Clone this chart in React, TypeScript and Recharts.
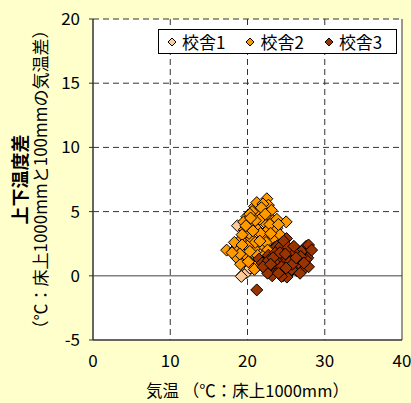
import React from 'react';
import { ScatterChart, Scatter, XAxis, YAxis, CartesianGrid, ReferenceLine, Legend, Label } from 'recharts';

const FONT = '"Noto Sans CJK JP", "Noto Sans", sans-serif';
const NAMES = ['校舎1', '校舎2', '校舎3'];
const COLORS = ['#FFCC99', '#FF9900', '#993300'];
const X_TICKS = [0, 10, 20, 30, 40];
const Y_TICKS = [-5, 0, 5, 10, 15, 20];

// [気温, 上下温度差]
const school1: [number, number][] = [
  [18.7, 3.9], [19.4, 0.1], [19.9, 0.25], [19.2, -0.05], [20.0, 3.7], [20.3, 0.6], [19.0, 2.5],
  [20.6, 1.8], [21.0, 3.0], [19.6, 1.2], [21.8, 2.2], [20.2, 4.3], [22.4, 3.4], [21.4, 0.8],
];

const school2: [number, number][] = [
  [22.5, 6.0], [22.7, 5.5], [20.9, 5.4], [21.2, 5.7], [21.9, 5.0], [19.9, 4.6], [21.3, 4.9], [22.7, 4.7],
  [23.1, 5.1], [19.5, 4.2], [20.5, 4.1], [22.1, 4.2], [23.3, 4.3], [23.8, 4.4], [25.0, 4.2], [19.6, 3.6],
  [21.3, 3.6], [22.7, 3.6], [23.8, 3.7], [19.1, 2.8], [20.5, 2.9], [22.1, 3.0], [23.3, 2.9], [17.3, 2.0],
  [18.4, 2.1], [19.5, 2.0], [20.9, 2.1], [22.1, 2.3], [18.6, 1.4], [19.9, 1.5], [21.3, 1.6], [19.1, 0.9],
  [20.5, 0.9], [21.5, 1.0], [20.9, 0.5], [20.2, 3.3], [21.6, 4.4], [22.4, 2.6], [24.2, 3.2], [23.0, 1.8],
  [21.0, 2.6], [20.0, 2.3], [19.3, 3.2], [20.6, 5.0], [22.0, 5.6], [24.5, 2.6], [23.5, 2.2],
  [21.8, 5.3], [20.3, 4.8], [22.9, 4.0], [21.0, 4.3], [19.8, 3.9], [21.7, 3.3], [23.0, 3.3], [20.7, 3.5],
  [18.3, 2.6], [19.3, 2.4], [21.6, 2.7], [22.6, 2.0], [20.3, 1.9], [19.0, 1.7], [20.1, 1.1], [22.0, 1.5],
  [24.0, 4.0], [18.0, 1.8], [22.3, 4.8], [20.4, 4.5],
];

const school3: [number, number][] = [
  [21.2, -1.1], [21.5, 1.3], [22.7, 1.6], [23.8, 2.3], [25.05, 2.9], [24.2, 1.5], [25.5, 2.0], [26.6, 1.9],
  [27.6, 2.3], [28.1, 2.0], [27.2, 1.3], [26.2, 1.0], [25.05, 1.3], [23.8, 0.5], [23.0, 0.3], [24.6, 0.0],
  [25.5, 0.3], [27.4, 0.6], [22.4, 0.5], [23.6, 1.0], [24.7, 0.9], [26.8, 1.1], [27.8, 1.4], [23.2, 0.0],
  [25.9, 1.7], [21.9, 1.0], [22.6, 0.2], [25.1, -0.1], [26.4, 0.4], [24.3, 2.3], [24.7, 2.7], [23.6, 1.8],
  [22.7, 1.2], [27.9, 2.4], [27.0, 1.9], [28.3, 2.0], [27.6, 1.25], [26.1, 1.8], [25.3, 2.2], [24.2, 1.8],
  [25.5, 1.1], [26.6, 1.0], [24.4, 0.7], [25.7, 0.5], [27.9, 0.7], [24.4, -0.05], [26.8, 0.2],
  [22.0, 0.7], [23.3, 1.4], [24.9, 1.7], [26.0, 2.3], [26.9, 1.5], [25.8, 0.9], [24.0, 0.2], [27.3, 1.0],
  [23.0, 0.9], [25.0, 0.6], [26.3, 1.4],
];

const SERIES = [school1, school2, school3];

const toPoints = (arr: [number, number][]) => arr.map(([x, y]) => ({ x, y }));

const diamondPoints = (cx: number, cy: number, r: number) =>
  `${cx},${cy - r} ${cx + r},${cy} ${cx},${cy + r} ${cx - r},${cy}`;

const Diamond = (props: any) => {
  const { cx, cy, fill } = props;
  return <polygon points={diamondPoints(cx, cy, 6)} fill={fill} stroke="#000" strokeWidth={1} />;
};

const renderLegend = () => (
  <div
    style={{
      border: '1px solid #000',
      background: '#fff',
      height: 25,
      width: 239,
      display: 'flex',
      alignItems: 'center',
      fontFamily: FONT,
      fontSize: 17,
      color: '#000',
      paddingLeft: 8,
      boxSizing: 'border-box',
      whiteSpace: 'nowrap',
    }}
  >
    {NAMES.map((n, i) => (
      <span key={n} style={{ display: 'flex', alignItems: 'center', marginRight: 20, flexShrink: 0 }}>
        <svg width={10} height={10}>
          <polygon points={diamondPoints(5, 5, 4)} fill={COLORS[i]} stroke="#000" strokeWidth={1} />
        </svg>
        <span style={{ marginLeft: 5, lineHeight: '23px' }}>{n}</span>
      </span>
    ))}
  </div>
);

const renderYLabel = (props: any) => {
  const { viewBox } = props;
  const cy = viewBox.y + viewBox.height / 2;
  return (
    <g fontFamily={FONT} fill="#000" textAnchor="middle">
      <text x={19} y={cy} transform={`rotate(-90 19 ${cy})`} dominantBaseline="central" fontWeight="bold" fontSize={18}>
        上下温度差
      </text>
      <text x={39} y={cy} transform={`rotate(-90 39 ${cy})`} dominantBaseline="central" fontSize={17}>
        （℃：床上1000mmと100mmの気温差）
      </text>
    </g>
  );
};

const renderXLabel = (props: any) => {
  const { viewBox } = props;
  const cx = viewBox.x + viewBox.width / 2;
  return (
    <text x={cx} y={390} fontFamily={FONT} fontSize={16.5} fill="#000" textAnchor="middle" dominantBaseline="central">
      気温 （℃：床上1000mm）
    </text>
  );
};

export default function App() {
  return (
    <div style={{ position: 'absolute', top: 0, left: 0, width: 411, height: 403, background: '#FFFFCC' }}>
      <ScatterChart width={411} height={403} margin={{ top: 19, right: 9, bottom: 0, left: 0 }}>
        <CartesianGrid
          fill="#fff"
          stroke="#333"
          strokeDasharray="6 4"
          horizontalValues={[5, 10, 15, 20]}
          verticalValues={[10, 20, 30]}
        />
        <XAxis
          type="number"
          dataKey="x"
          domain={[0, 40]}
          ticks={X_TICKS}
          height={63}
          tickLine={false}
          tickSize={4}
          tickMargin={11}
          axisLine={{ stroke: '#333', strokeWidth: 1.5 }}
          tick={{ fill: '#000', fontFamily: FONT, fontSize: 17 }}
          interval={0}
        >
          <Label content={renderXLabel} />
        </XAxis>
        <YAxis
          type="number"
          dataKey="y"
          domain={[-5, 20]}
          ticks={Y_TICKS}
          width={93}
          tickSize={4}
          tickMargin={9}
          tickLine={{ stroke: '#333' }}
          axisLine={{ stroke: '#333', strokeWidth: 1.5 }}
          tick={{ fill: '#000', fontFamily: FONT, fontSize: 17 }}
          interval={0}
        >
          <Label content={renderYLabel} />
        </YAxis>
        <ReferenceLine y={0} stroke="#808080" strokeWidth={1.5} />
        <ReferenceLine x={40} stroke="#333" strokeWidth={1} />
        <Legend
          layout="vertical"
          align="center"
          verticalAlign="middle"
          content={renderLegend}
          wrapperStyle={{ top: 29, left: 158, width: 239, height: 25 }}
        />
        {SERIES.map((s, i) => (
          <Scatter
            key={NAMES[i]}
            name={NAMES[i]}
            data={toPoints(s)}
            fill={COLORS[i]}
            shape={Diamond}
            isAnimationActive={false}
          />
        ))}
      </ScatterChart>
    </div>
  );
}
